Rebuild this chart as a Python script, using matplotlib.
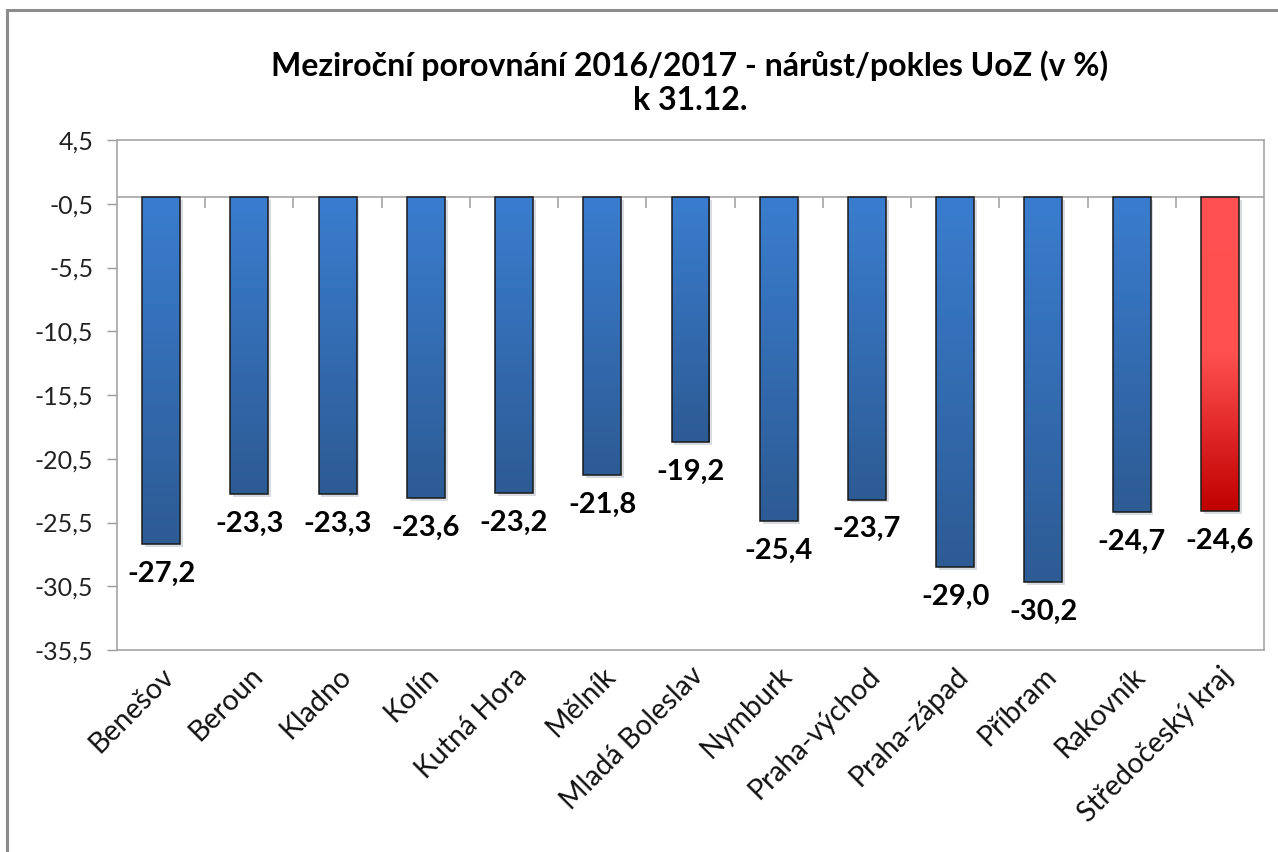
import numpy as np
import matplotlib
matplotlib.use("Agg")
import matplotlib.pyplot as plt
from matplotlib import patheffects
from matplotlib.colors import LinearSegmentedColormap
from matplotlib.patches import Rectangle
from matplotlib.transforms import ScaledTranslation

districts = ["Benešov", "Beroun", "Kladno", "Kolín", "Kutná Hora", "Mělník",
             "Mladá Boleslav", "Nymburk", "Praha-východ", "Praha-západ",
             "Příbram", "Rakovník", "Středočeský kraj"]
change_pct = [-27.2, -23.3, -23.3, -23.6, -23.2, -21.8, -19.2, -25.4,
              -23.7, -29.0, -30.2, -24.7, -24.6]
ytick_vals = [4.5, -0.5, -5.5, -10.5, -15.5, -20.5, -25.5, -30.5, -35.5]

plt.rcParams['font.family'] = ['Lato', 'DejaVu Sans']

W, H = 1278, 852
fig = plt.figure(figsize=(W / 100, H / 100), dpi=100)
ax = fig.add_axes([117 / W, 1 - 650 / H, (1264 - 117) / W, (650 - 140) / H])

blue_cmap = LinearSegmentedColormap.from_list("b", ["#2D5B94", "#3A7DCF"])
red_cmap = LinearSegmentedColormap.from_list("r", [(0, "#C00000"), (0.5, "#FF4F4F"), (1, "#FF5252")])

x = np.arange(len(districts))
bars = ax.bar(x, change_pct, width=0.43, color="#3572BE", zorder=2)
for b in bars:
    b.set_path_effects([patheffects.SimplePatchShadow(offset=(2, -2), alpha=0.16),
                        patheffects.Normal()])

# vertical gradient fill, clipped to each bar
grad = np.linspace(0, 1, 256).reshape(-1, 1)
for i, b in enumerate(bars):
    cmap = red_cmap if i == len(bars) - 1 else blue_cmap
    x0, w = b.get_x(), b.get_width()
    y0 = b.get_y() + b.get_height()
    im = ax.imshow(grad, extent=[x0, x0 + w, y0, 0], origin="lower", aspect="auto",
                   cmap=cmap, zorder=3, interpolation="bicubic")
    im.set_clip_path(b)

ax.bar(x, change_pct, width=0.43, fill=False, edgecolor="#1a1a1a", linewidth=1.1, zorder=4)

for xi, v in zip(x, change_pct):
    ax.annotate(f"{v:.1f}".replace(".", ","), (xi, v), xytext=(0, -12),
                textcoords="offset points", ha="center", va="top",
                fontsize=21, fontweight="bold", color="black", zorder=5)

ax.set_xlim(-0.5, len(districts) - 0.5)
ax.set_ylim(-35.5, 4.5)
ax.set_yticks(ytick_vals)
ax.set_yticklabels([f"{v:.1f}".replace(".", ",") for v in ytick_vals])
ax.set_xticks(x)
ax.set_xticklabels(districts, rotation=45, ha="right", rotation_mode="anchor")
shift = ScaledTranslation(-6 / 72, 0, fig.dpi_scale_trans)
for lbl in ax.get_xticklabels():
    lbl.set_transform(lbl.get_transform() + shift)

ax.tick_params(axis="y", direction="out", length=7, width=1, color="#9a9a9a",
               labelsize=18, labelcolor="#222222", pad=10)
ax.tick_params(axis="x", length=0, labelsize=20.5, labelcolor="#111111", pad=9)
for s in ax.spines.values():
    s.set_color("#a6a6a6")
    s.set_linewidth(1.2)

# category axis line at zero with tick marks between categories
ax.axhline(0, color="#a6a6a6", linewidth=1.2, zorder=1)
yl = ax.get_ylim()
sec = ax.secondary_xaxis((0 - yl[0]) / (yl[1] - yl[0]))
sec.set_xticks(np.arange(0.5, len(districts) - 0.5, 1))
sec.set_xticklabels([])
sec.xaxis.set_ticks_position("bottom")
sec.tick_params(axis="x", direction="out", length=8, width=1.2, color="#a6a6a6")
for s in sec.spines.values():
    s.set_visible(False)

fig.text(690 / W, 1 - 66 / H, "Meziroční porovnání 2016/2017 - nárůst/pokles UoZ (v %)",
         ha="center", va="center", fontsize=23, fontweight="bold")
fig.text(690 / W, 1 - 101 / H, "k 31.12.", ha="center", va="center",
         fontsize=23, fontweight="bold")

fig.add_artist(Rectangle((7 / W, -0.05), 1.1, 1 - 10 / H + 0.05, transform=fig.transFigure,
                         fill=False, edgecolor="#8c8c8c", linewidth=2.2))

fig.savefig("out.png", dpi=100, facecolor="white")
